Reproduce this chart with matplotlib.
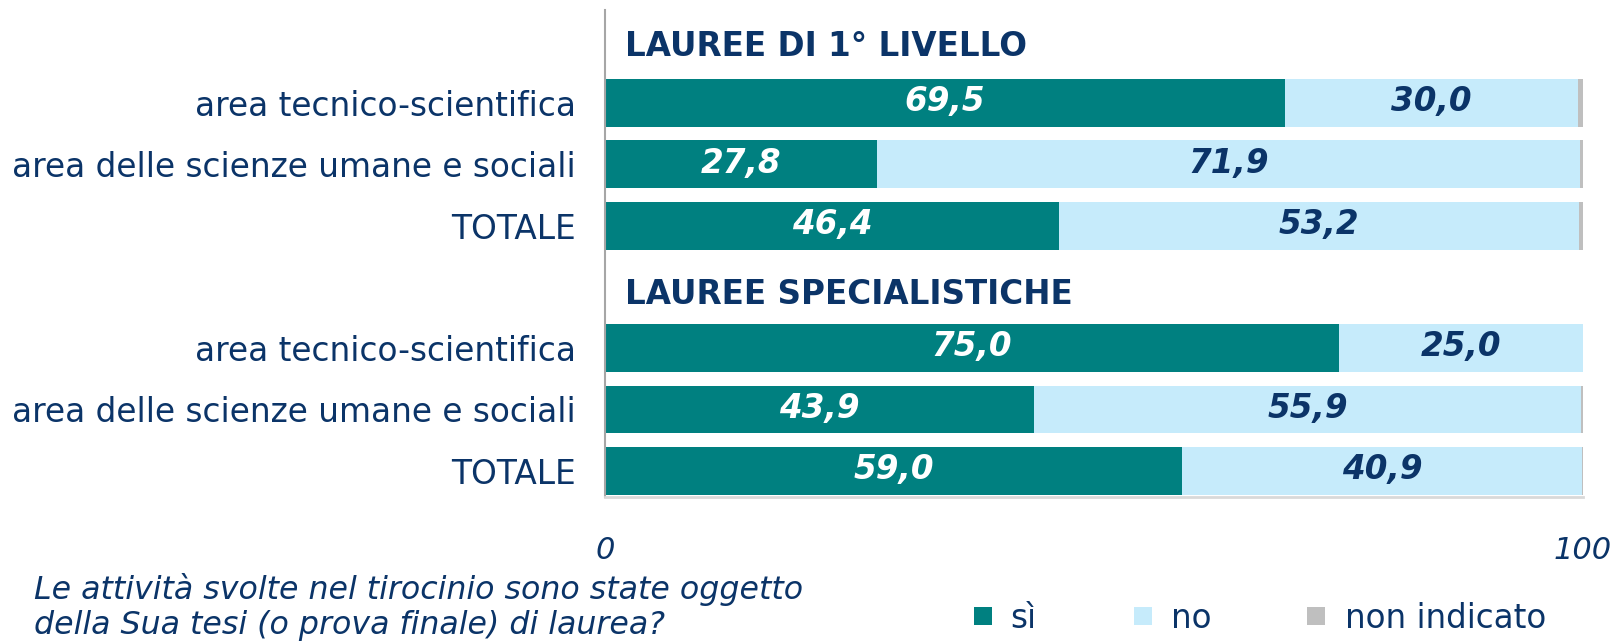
import matplotlib
matplotlib.use("Agg")
import matplotlib.pyplot as plt
from matplotlib.patches import Rectangle

# ---- data ----
groups = ["LAUREE DI 1° LIVELLO", "LAUREE SPECIALISTICHE"]
categories = ["area tecnico-scientifica", "area delle scienze umane e sociali", "TOTALE"]
si_1 = [69.5, 27.8, 46.4]
no_1 = [30.0, 71.9, 53.2]
ni_1 = [0.5, 0.3, 0.4]
si_2 = [75.0, 43.9, 59.0]
no_2 = [25.0, 55.9, 40.9]
ni_2 = [0.0, 0.2, 0.1]
series_names = ["sì", "no", "non indicato"]
caption = "Le attività svolte nel tirocinio sono state oggetto\ndella Sua tesi (o prova finale) di laurea?"

C_SI = "#008080"
C_NO = "#C6EBFB"
C_NI = "#BFBFBF"
colors = [C_SI, C_NO, C_NI]
NAVY = "#0B3468"

plt.rcParams['font.family'] = ['DejaVu Sans']

W, H = 1620, 642
fig = plt.figure(figsize=(16.2, 6.42), dpi=100)
ax = fig.add_axes([605/W, 1-497/H, (1583-605)/W, (497-10)/H])

si = si_1 + si_2
no = no_1 + no_2
ni = ni_1 + ni_2
ypos = [1, 2, 3, 5, 6, 7]
labels = categories + categories
bh = 0.78

ax.barh(ypos, si, height=bh, color=C_SI)
ax.barh(ypos, no, left=si, height=bh, color=C_NO)
left3 = [a + b for a, b in zip(si, no)]
ax.barh(ypos, ni, left=left3, height=bh, color=C_NI)

for y, s, n in zip(ypos, si, no):
    ax.text(s/2, y - 0.02, f"{s:.1f}".replace(".", ","), ha="center", va="center",
            color="white", fontsize=23.5, fontweight="bold", fontstyle="italic")
    ax.text(s + n/2, y - 0.02, f"{n:.1f}".replace(".", ","), ha="center", va="center",
            color=NAVY, fontsize=23.5, fontweight="bold", fontstyle="italic")

for gy, g in zip([0.07, 4.13], groups):
    ax.text(2.0, gy, g, ha="left", va="center", color=NAVY, fontsize=23.5, fontweight="bold")

ax.set_xlim(0, 100)
ax.set_ylim(7.43, -0.52)
ax.set_yticks(ypos)
ax.set_yticklabels(labels, fontsize=23.6, color=NAVY)
ax.set_xticks([0, 100])
ax.set_xticklabels(["0", "100"], fontsize=22, color=NAVY, fontstyle="italic")
ax.tick_params(axis="both", length=0)
ax.tick_params(axis="y", pad=21)
ax.tick_params(axis="x", pad=28)
for sp in ["top", "right"]:
    ax.spines[sp].set_visible(False)
ax.spines["left"].set_color("#A6A6A6")
ax.spines["bottom"].set_color("#D9D9D9")
ax.spines["left"].set_linewidth(1.5)
ax.spines["bottom"].set_linewidth(2)

fig.text(34/W, 1-607/H, caption, ha="left", va="center", fontsize=22.8,
         fontstyle="italic", color=NAVY, linespacing=1.15)

# legend
sq_x = [974, 1134, 1307]
tx_x = [1010, 1171, 1345]
for sx, tx, c, name in zip(sq_x, tx_x, colors, series_names):
    fig.patches.append(Rectangle((sx/W, 1-625/H), 18/W, 18/H, transform=fig.transFigure,
                                 facecolor=c, edgecolor="none"))
    fig.text(tx/W, 1-618/H, name, ha="left", va="center", fontsize=23.5, color=NAVY)

fig.savefig("out.png", dpi=100)
